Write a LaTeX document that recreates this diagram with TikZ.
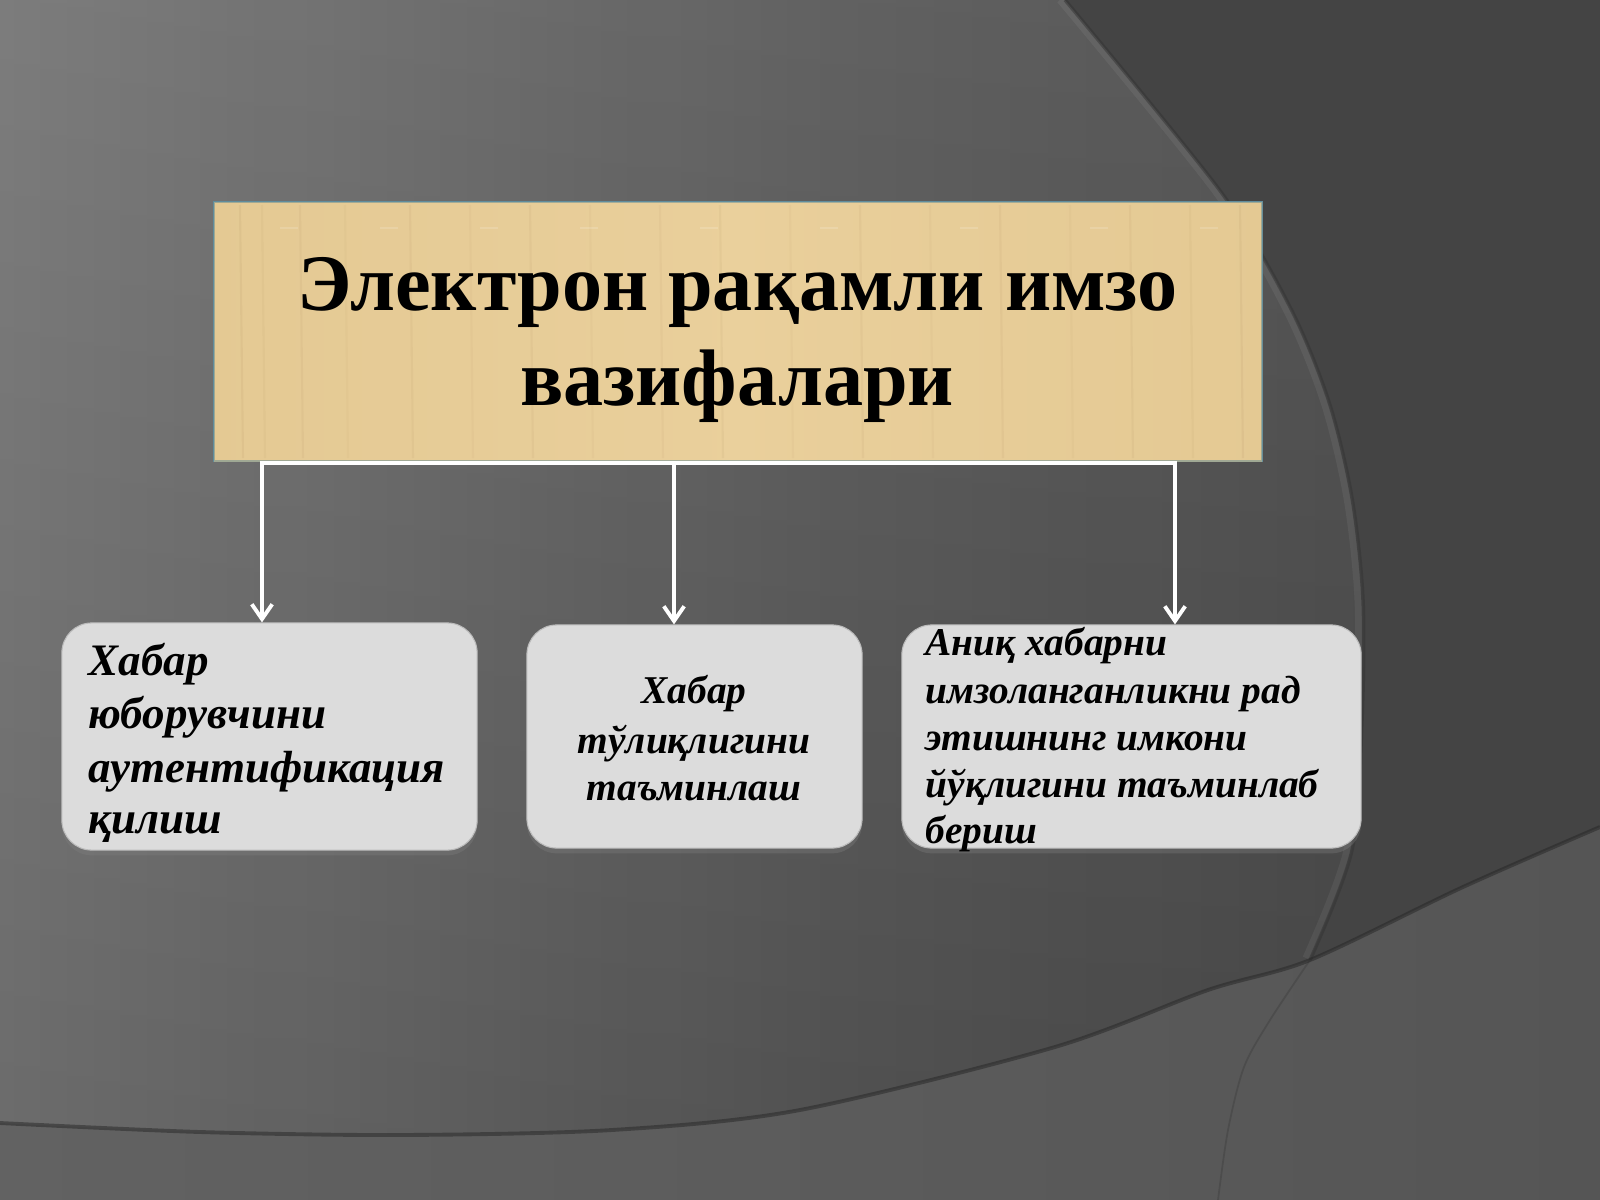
\documentclass[tikz,border=0pt]{standalone}
\usepackage{fontspec}
\setmainfont{Liberation Serif}
\usetikzlibrary{arrows.meta,shadows}

\definecolor{bgL}{HTML}{7C7C7C}
\definecolor{bgM}{HTML}{5E5E5E}
\definecolor{bgR}{HTML}{494949}
\definecolor{outerR}{HTML}{444444}
\definecolor{lowL}{HTML}{626262}
\definecolor{lowR}{HTML}{555555}
\definecolor{papyrus}{HTML}{EAD09C}
\definecolor{papyrusD}{HTML}{E0C48C}
\definecolor{boxgray}{HTML}{DCDCDC}
\definecolor{boxedge}{HTML}{5F8C9C}

\begin{document}
\begin{tikzpicture}[x=0.01cm,y=-0.01cm,
  conn/.style={draw=white, line width=1.4pt},
  connarrow/.style={conn, -{Straight Barb[length=4.2pt,width=5.8pt,line width=1.1pt]}},
  card/.style={fill=boxgray, draw=boxgray!85!black, line width=0.3pt, rounded corners=8.5pt, inner sep=0pt,
    drop shadow={shadow xshift=0pt, shadow yshift=-1.5pt, opacity=0.35}},
  titlebox/.style={fill=papyrus, draw=boxedge, line width=0.5pt, inner sep=0pt},
  titletext/.style={font=\fontsize{22.8}{27}\selectfont\bfseries, text=black, inner sep=0pt},
  bigtext/.style={font=\fontsize{12.8}{15}\selectfont\bfseries\itshape, text=black, inner sep=0pt},
  smalltext/.style={font=\fontsize{11.2}{13}\selectfont\bfseries\itshape, text=black, inner sep=0pt}
]
\useasboundingbox (0,0) rectangle (1600,1200);

% ---------- background ----------
\shade[left color=bgL, right color=bgR, middle color=bgM] (0,0) rectangle (1600,1200);
\fill[top color=white, bottom color=black, opacity=0.07] (0,0) rectangle (1600,1200);
% outer dark region right of the big arc
\fill[outerR] (1065,0) -- plot[smooth] coordinates {(1065,0) (1221,192) (1290,307) (1329,402) (1352,498) (1363,600) (1362,720) (1352,850) (1310,960)}
  -- plot[smooth] coordinates {(1310,960) (1463,887) (1600,827)} -- (1600,0) -- cycle;
% lower lighter region
\shade[left color=lowL, right color=lowR] (0,1123) -- plot[smooth] coordinates {(0,1123) (200,1132) (400,1135) (612,1130) (800,1110) (1055,1047) (1208,990) (1310,960) (1463,887) (1600,827)}
  -- (1600,1200) -- (0,1200) -- cycle;
% arc edges
\draw[white, opacity=0.06, line width=2pt] plot[smooth] coordinates {(1060,0) (1216,192) (1285,307) (1324,402) (1347,498) (1358,600) (1357,720) (1347,850) (1306,958)};
\draw[black!80, opacity=0.5, line width=1pt] plot[smooth] coordinates {(1065,0) (1221,192) (1290,307) (1329,402) (1352,498) (1363,600) (1362,720) (1352,850) (1310,960)};
\draw[black!80, opacity=0.3, line width=0.5pt] plot[smooth] coordinates {(1310,960) (1270,1020) (1244,1067) (1228,1130) (1218,1200)};
\draw[black!85, opacity=0.5, line width=1.1pt] plot[smooth] coordinates {(0,1123) (200,1132) (400,1135) (612,1130) (800,1110) (1055,1047) (1208,990) (1310,960) (1463,887) (1600,827)};

% ---------- title box ----------
\node[titlebox, minimum width=10.48cm, minimum height=2.59cm] (title) at (738,331.5) {};
\begin{scope}
  \clip (title.south west) rectangle (title.north east);
  \shade[left color=papyrusD, right color=papyrusD, middle color=papyrus, opacity=0.5] (214,202) rectangle (1262,461);
  \foreach \xx/\op in {240/0.06, 262/0.04, 300/0.05, 345/0.03, 410/0.05, 470/0.03, 530/0.05, 590/0.03, 660/0.04, 720/0.05, 790/0.03, 860/0.05, 930/0.03, 1000/0.05, 1070/0.03, 1130/0.05, 1190/0.04, 1240/0.06}
    \draw[brown!60!black, opacity=\op, line width=0.6pt] (\xx,205) -- (\xx+3,458);
  \foreach \xx in {280,380,480,580,700,820,960,1090,1200}
    \draw[white, opacity=0.15, line width=0.8pt] (\xx,228) -- (\xx+18,228);
\end{scope}
\node[titletext, anchor=base] (tt1) at (737.5,310) {Электрон рақамли имзо};
\node[titletext, anchor=base] (tt2) at (737,405) {вазифалари};

% ---------- cards ----------
\node[card, minimum width=4.15cm, minimum height=2.27cm] (b1) at (269.5,736.5) {};
\node[card, minimum width=3.35cm, minimum height=2.23cm] (b2) at (694.5,736.5) {};
\node[card, minimum width=4.59cm, minimum height=2.23cm] (b3) at (1131.5,736.5) {};

% ---------- connectors ----------
\coordinate (j1) at (262,463);
\coordinate (j2) at (674,463);
\coordinate (j3) at (1175,463);
\draw[conn, line cap=rect] (j1) -- (j3);
\draw[connarrow] (j1) -- (j1 |- b1.north);
\draw[connarrow] (j2) -- (j2 |- b2.north);
\draw[connarrow] (j3) -- (j3 |- b3.north);

% ---------- card texts ----------
\node[bigtext, anchor=base west] (t1a) at (88,675) {Хабар};
\node[bigtext, anchor=base west] (t1b) at (88,728) {юборувчини};
\node[bigtext, anchor=base west] (t1c) at (88,782) {аутентификация};
\node[bigtext, anchor=base west] (t1d) at (88,833) {қилиш};

\node[smalltext, anchor=base] (t2a) at (694,703) {Хабар};
\node[smalltext, anchor=base] (t2b) at (694,753) {тўлиқлигини};
\node[smalltext, anchor=base] (t2c) at (694,800) {таъминлаш};

\node[smalltext, anchor=base west] (t3a) at (925,655) {Аниқ хабарни};
\node[smalltext, anchor=base west] (t3b) at (925,703) {имзоланганликни рад};
\node[smalltext, anchor=base west] (t3c) at (925,750) {этишнинг имкони};
\node[smalltext, anchor=base west] (t3d) at (925,797) {йўқлигини таъминлаб};
\node[smalltext, anchor=base west] (t3e) at (925,843) {бериш};
\end{tikzpicture}
\end{document}
